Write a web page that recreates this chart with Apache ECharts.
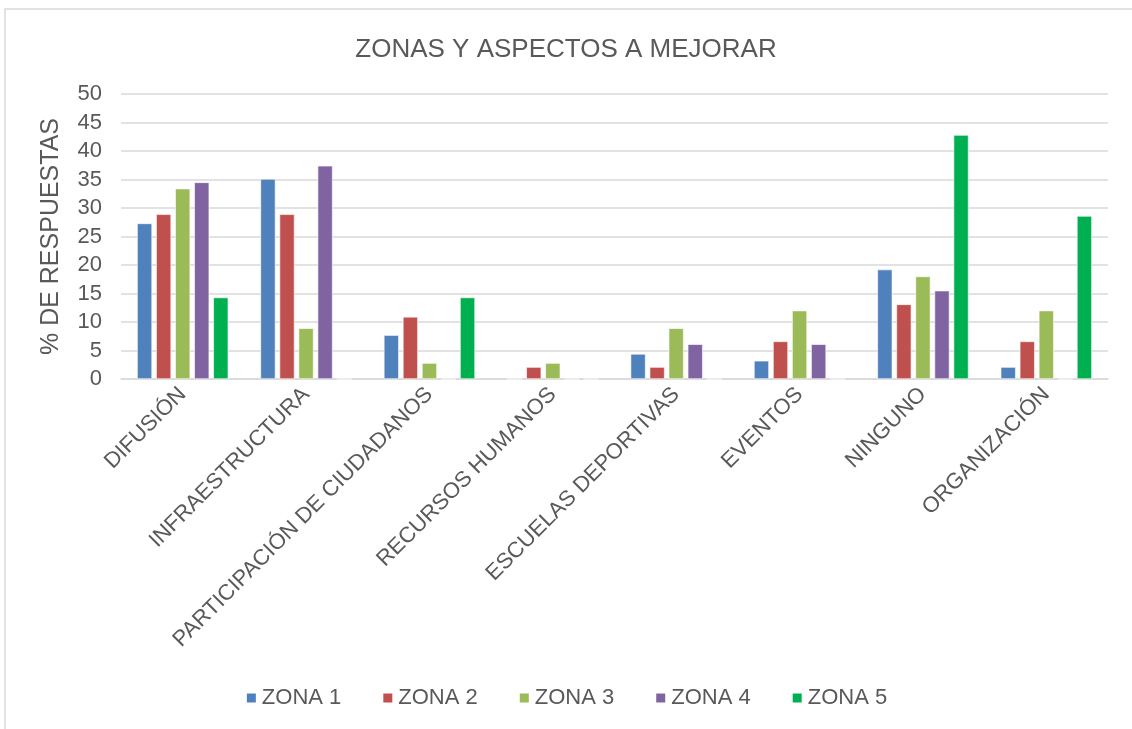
<!DOCTYPE html>
<html>
<head>
<meta charset="utf-8">
<script src="https://cdn.jsdelivr.net/npm/echarts@6/dist/echarts.min.js"></script>
<style>
  html, body { margin: 0; padding: 0; background: #fff; }
  #chart { width: 1132px; height: 729px; }
</style>
</head>
<body>
<div id="chart"></div>
<script>
var categorias = ['DIFUSIÓN', 'INFRAESTRUCTURA', 'PARTICIPACIÓN DE CIUDADANOS', 'RECURSOS HUMANOS',
	'ESCUELAS DEPORTIVAS', 'EVENTOS', 'NINGUNO', 'ORGANIZACIÓN'];
var zona1 = [27.3, 35.1, 7.7, 0, 4.4, 3.2, 19.2, 2.1];
var zona2 = [28.9, 28.9, 10.9, 2.1, 2.1, 6.6, 13.1, 6.6];
var zona3 = [33.4, 8.9, 2.8, 2.8, 8.9, 12.0, 18.0, 12.0];
var zona4 = [34.5, 37.4, 0, 0, 6.1, 6.1, 15.5, 0];
var zona5 = [14.3, 0, 14.3, 0, 0, 0, 42.8, 28.6];
var nombresZona = ['ZONA 1', 'ZONA 2', 'ZONA 3', 'ZONA 4', 'ZONA 5'];
var coloresZona = ['#4F81BD', '#C0504D', '#9BBB59', '#8064A2', '#00B050'];

var datosZona = [zona1, zona2, zona3, zona4, zona5];
var gris = '#595959';

var myChart = echarts.init(document.getElementById('chart'));

var series = [];
for (var i = 0; i < datosZona.length; i++) {
	series.push({
		name: nombresZona[i],
		type: 'bar',
		barWidth: 15,
		barGap: '27%',
		data: datosZona[i],
		itemStyle: {
			color: coloresZona[i],
			borderColor: '#ffffff',
			borderWidth: 0.6
		}
	});
}

var option = {
	backgroundColor: '#ffffff',
	animation: false,
	textStyle: { fontFamily: 'Liberation Sans, Arial, sans-serif' },
	title: {
		text: 'ZONAS Y ASPECTOS A MEJORAR',
		left: 'center',
		top: 32,
		textStyle: { fontSize: 26, fontWeight: 'normal', color: gris }
	},
	// borde del area del grafico
	graphic: [{
		type: 'rect',
		shape: { x: 5, y: 9, width: 1300, height: 900 },
		style: { fill: 'none', stroke: '#d9d9d9', lineWidth: 1.5 },
		silent: true
	}],
	legend: {
		bottom: 15,
		left: 'center',
		itemWidth: 11,
		itemHeight: 11,
		itemGap: 40,
		icon: 'rect',
		textStyle: { fontSize: 22, color: gris },
		data: nombresZona
	},
	grid: {
		left: 121,
		right: 24,
		top: 94,
		bottom: 350
	},
	xAxis: {
		type: 'category',
		data: categorias,
		axisTick: { show: false },
		axisLine: { lineStyle: { color: '#d9d9d9', width: 1.5 } },
		axisLabel: {
			rotate: 45,
			interval: 0,
			fontSize: 22,
			color: gris,
			margin: 12
		}
	},
	yAxis: {
		type: 'value',
		min: 0,
		max: 50,
		interval: 5,
		name: '% DE RESPUESTAS',
		nameLocation: 'middle',
		nameRotate: 90,
		nameGap: 57,
		nameTextStyle: { fontSize: 25, color: gris },
		axisLine: { show: false },
		axisTick: { show: false },
		axisLabel: { fontSize: 22, color: gris, margin: 19 },
		splitLine: { lineStyle: { color: '#d9d9d9', width: 1.5 } }
	},
	series: series
};

myChart.setOption(option);
</script>
</body>
</html>
